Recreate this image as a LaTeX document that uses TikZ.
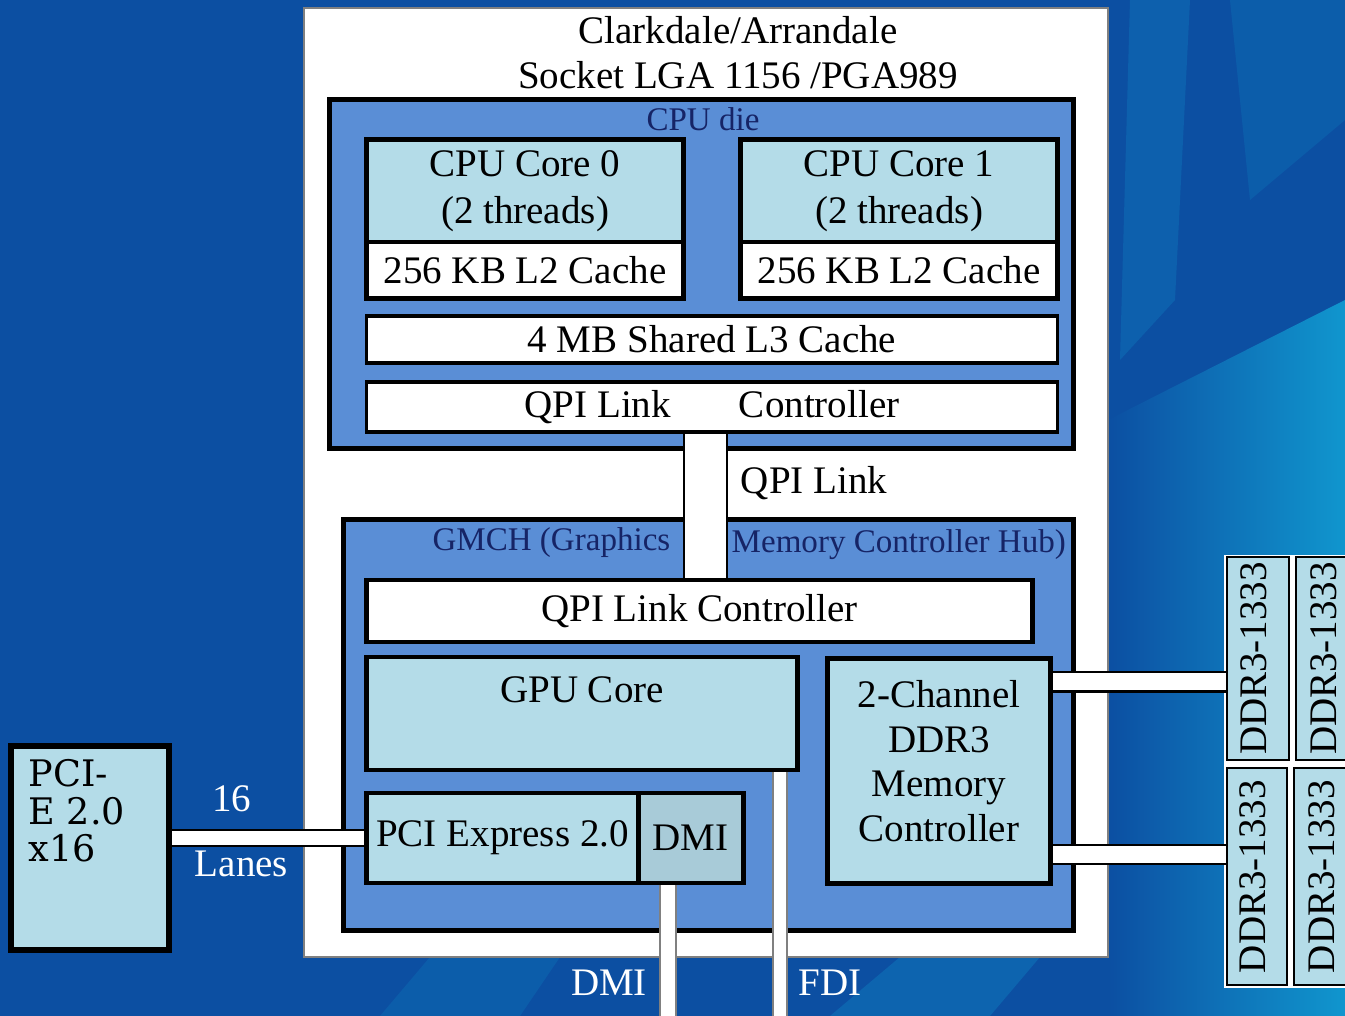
\documentclass[tikz,border=0pt]{standalone}
\usepackage{fontspec}
\setmainfont{Liberation Serif}
\newfontfamily\cardfont{DejaVu Serif}
\usetikzlibrary{positioning}
\definecolor{bgblue}{RGB}{12,79,162}
\definecolor{streak}{RGB}{16,150,206}
\definecolor{dieblue}{RGB}{90,142,214}
\definecolor{coreblue}{RGB}{180,220,232}
\definecolor{dmiblue}{RGB}{168,203,216}
\definecolor{labelblue}{RGB}{22,36,102}
\pgfdeclarelayer{bg}
\pgfdeclarelayer{links}
\pgfsetlayers{bg,links,main}

\begin{document}
\begin{tikzpicture}[x=0.01cm,y=-0.01cm,
  txt/.style={font=\fontsize{11.1}{13.4}\selectfont},
  small/.style={font=\fontsize{9.4}{11}\selectfont,text=labelblue,inner sep=0pt},
  die/.style={draw=black,line width=1.4pt,fill=dieblue,inner sep=0pt},
  core/.style={draw=black,line width=1.4pt,fill=coreblue,txt,align=center,inner sep=0pt},
  cache/.style={draw=black,line width=1.4pt,fill=white,txt,inner sep=0pt},
  strip/.style={draw=black,line width=0.9pt,fill=white,txt,inner sep=0pt},
  ddr/.style={draw=black,line width=0.7pt,fill=coreblue,inner sep=0pt},
  bus/.style={draw=black,line width=0.6pt,double=white,double distance=#1},
  wlabel/.style={txt,text=white}]
\useasboundingbox (0,0) rectangle (1345,1016);

\begin{pgfonlayer}{bg}
  % background
  \fill[bgblue] (0,0) rectangle (1345,1016);
  \shade[left color=bgblue,right color=streak] (1108,420) -- (1345,300) -- (1345,1016) -- (1108,1016) -- cycle;
  \fill[streak,opacity=0.25] (1130,0) -- (1190,0) -- (1175,300) -- (1120,360) -- cycle;
  \fill[streak,opacity=0.2] (1230,0) -- (1345,0) -- (1345,120) -- (1250,200) -- cycle;
  \fill[streak,opacity=0.2] (380,1016) -- (430,957) -- (560,957) -- (520,1016) -- cycle;
  \fill[streak,opacity=0.3] (830,1016) -- (900,957) -- (1040,957) -- (990,1016) -- cycle;
  % socket and the two dies
  \node[draw=gray,fill=white,line width=0.5pt,minimum width=8.04cm,minimum height=9.49cm] (socket) at (706,482.5) {};
  \node[die,minimum width=7.43cm,minimum height=3.48cm] (die) at (701.5,274) {};
  \node[die,minimum width=7.29cm,minimum height=4.10cm] (gmch) at (708.5,725) {};
  \fill[white] (1224,555) rectangle (1345,988);
\end{pgfonlayer}

\node[txt,align=center,font=\fontsize{11.1}{12.8}\selectfont] (title) at (738,53) {Clarkdale/Arrandale\\Socket LGA 1156 /PGA989};
\node[small] (dielabel) at (703,119) {CPU die};

\node[core,minimum width=3.16cm,minimum height=1.02cm] (core0) at (525,191) {CPU Core 0\\(2 threads)};
\node[core,minimum width=3.16cm,minimum height=1.02cm] (core1) at (899,191) {CPU Core 1\\(2 threads)};
\node[cache,below=-1.4pt of core0,minimum width=3.16cm,minimum height=0.56cm] (l2a) {256 KB L2 Cache};
\node[cache,below=-1.4pt of core1,minimum width=3.16cm,minimum height=0.56cm] (l2b) {256 KB L2 Cache};
\node[strip,minimum width=6.90cm,minimum height=0.47cm] (l3) at (712,339.5) {4 MB Shared L3 Cache};
\node[strip,minimum width=6.90cm,minimum height=0.50cm] (qpitop) at (712,407) {QPI Link\hspace{0.68cm}Controller};

\node[small,anchor=east] (gmchlabel) at (671,543) {GMCH (Graphics};
\node[small,anchor=west] (hublabel) at (731,545) {Memory Controller Hub)};
\node[cache,minimum width=6.65cm,minimum height=0.62cm] (qpibot) at (699.5,611) {QPI Link Controller};
\node[core,minimum width=4.30cm,minimum height=1.13cm] (gpu) at (582,713.5) {};
\path (gpu.north) ++(0,35) node[txt] (gpulabel) {GPU Core};
\node[core,minimum width=2.71cm,minimum height=0.90cm] (pcie) at (502.5,838) {PCI Express 2.0};
\node[core,fill=dmiblue,right=-1.4pt of pcie,minimum width=1.05cm,minimum height=0.90cm] (dmi) {DMI};
\node[core,minimum width=2.22cm,minimum height=2.24cm] (mc) at (939,771) {};
\node[txt,align=center,font=\fontsize{11.1}{12.7}\selectfont] (mclabel) at ([yshift=0.1cm]mc.center) {2-Channel\\DDR3\\Memory\\Controller};

\node[core,line width=1.8pt,minimum width=1.58cm,minimum height=2.04cm] (card) at (90,848) {};
\node[anchor=north west,align=left,inner sep=0pt,font=\cardfont\fontsize{10.4}{10.6}\selectfont] (cardlabel) at (28,759) {PCI-\\E 2.0\\x16};

\node[ddr,minimum width=0.62cm,minimum height=2.03cm] (ddr1) at (1258,658.5) {};
\node[ddr,minimum width=0.64cm,minimum height=2.03cm] (ddr2) at (1328,658.5) {};
\node[ddr,minimum width=0.60cm,minimum height=2.17cm] (ddr3) at (1257,876.5) {};
\node[ddr,minimum width=0.64cm,minimum height=2.17cm] (ddr4) at (1326,876.5) {};
\foreach \m in {ddr1,ddr2,ddr3,ddr4}
  \node[txt,rotate=90] at ([xshift=-0.04cm]\m.center) {DDR3-1333};

\coordinate (qpix) at (705.5,0);
\coordinate (dmiend) at (668,1016);
\coordinate (fdiend) at (780,1016);

\begin{pgfonlayer}{links}
  \draw[bus=0.41cm] (qpix |- qpitop.south) -- (qpix |- qpibot.north)
    node[pos=0.345,xshift=1.085cm,txt] {QPI Link};
  \draw[bus=0.13cm] (pcie.west) -- (pcie.west -| card.east)
    node[pos=0.69,yshift=0.39cm,wlabel] {16}
    node[pos=0.64,yshift=-0.26cm,wlabel] {Lanes};
  \draw[bus=0.14cm,draw=gray] (dmiend |- dmi.south) -- (dmiend)
    node[pos=0.744,xshift=-0.59cm,wlabel] {DMI};
  \draw[bus=0.12cm,draw=gray] (fdiend |- gpu.south) -- (fdiend)
    node[pos=0.862,xshift=0.50cm,wlabel] {FDI};
  \draw[bus=0.17cm] ([yshift=0.89cm]mc.east) -- ([yshift=0.89cm]mc.east -| ddr1.west);
  \draw[bus=0.17cm] ([yshift=-0.835cm]mc.east) -- ([yshift=-0.835cm]mc.east -| ddr3.west);
\end{pgfonlayer}
\end{tikzpicture}
\end{document}
